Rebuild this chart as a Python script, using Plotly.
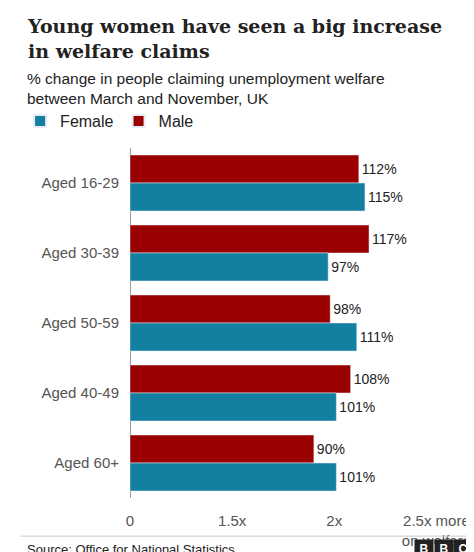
import plotly.graph_objects as go

categories = ["Aged 16-29", "Aged 30-39", "Aged 50-59", "Aged 40-49", "Aged 60+"]
female = [115, 97, 111, 101, 101]
male = [112, 117, 98, 108, 90]
tick_vals = [0, 50, 100, 150]
tick_text = ["0", "1.5x", "2x", "2.5x more<br>on welfare"]

fig = go.Figure()
fig.add_trace(go.Bar(y=categories, x=male, name="Male", orientation="h", legendrank=2,
                     marker_color="#990000", text=[f"{v}%" for v in male],
                     textposition="outside", cliponaxis=False,
                     textfont=dict(size=14, color="#222")))
fig.add_trace(go.Bar(y=categories, x=female, name="Female", orientation="h", legendrank=1,
                     marker_color="#1380A1", text=[f"{v}%" for v in female],
                     textposition="outside", cliponaxis=False,
                     textfont=dict(size=14, color="#222")))

fig.update_layout(
    width=474, height=552, barmode="group", bargap=0.2, bargroupgap=0.0,
    paper_bgcolor="white", plot_bgcolor="white",
    font=dict(family="Liberation Sans, Arial", size=15, color="#222"),
    margin=dict(l=113, r=19, t=140, b=62),
    showlegend=True,
    legend=dict(orientation="h", x=-0.33, y=1.077, xanchor="left", yanchor="middle",
                font=dict(size=16), itemsizing="constant"),
    xaxis=dict(range=[0, 163], tickvals=tick_vals, ticktext=tick_text, automargin=False,
               showgrid=False, zeroline=True, zerolinecolor="#999", zerolinewidth=1,
               tickfont=dict(size=15, color="#555"), ticks="", ticklabelstandoff=12),
    yaxis=dict(autorange="reversed", ticks="", tickfont=dict(size=15, color="#555"),
               automargin=False, ticklabelstandoff=10, showline=False),
)

fig.add_annotation(text="<b>Young women have seen a big increase<br>in welfare claims</b>",
                   xref="paper", yref="paper", x=-0.316, y=1.386, xanchor="left", yanchor="top",
                   align="left", showarrow=False,
                   font=dict(family="DejaVu Serif, serif", size=19, color="#222"))
fig.add_annotation(text="% change in people claiming unemployment welfare<br>between March and November, UK",
                   xref="paper", yref="paper", x=-0.316, y=1.229, xanchor="left", yanchor="top",
                   align="left", showarrow=False, font=dict(size=15.5, color="#222"))
fig.add_shape(type="line", xref="paper", yref="paper", x0=-0.33, x1=1.055, y0=-0.109, y1=-0.109,
              line=dict(color="#ccc", width=1))
fig.add_annotation(text="Source: Office for National Statistics", xref="paper", yref="paper",
                   x=-0.316, y=-0.146, xanchor="left", yanchor="middle", showarrow=False,
                   font=dict(size=13, color="#222"))
for i, ch in enumerate("BBC"):
    fig.add_annotation(text=f"<b>{ch}</b>", xref="paper", yref="paper",
                       x=0.883 + i * 0.059, y=-0.146, xanchor="center", yanchor="middle",
                       showarrow=False, bgcolor="#222", width=16, height=16,
                       font=dict(size=12, color="white"))

fig.write_html("out.html")
